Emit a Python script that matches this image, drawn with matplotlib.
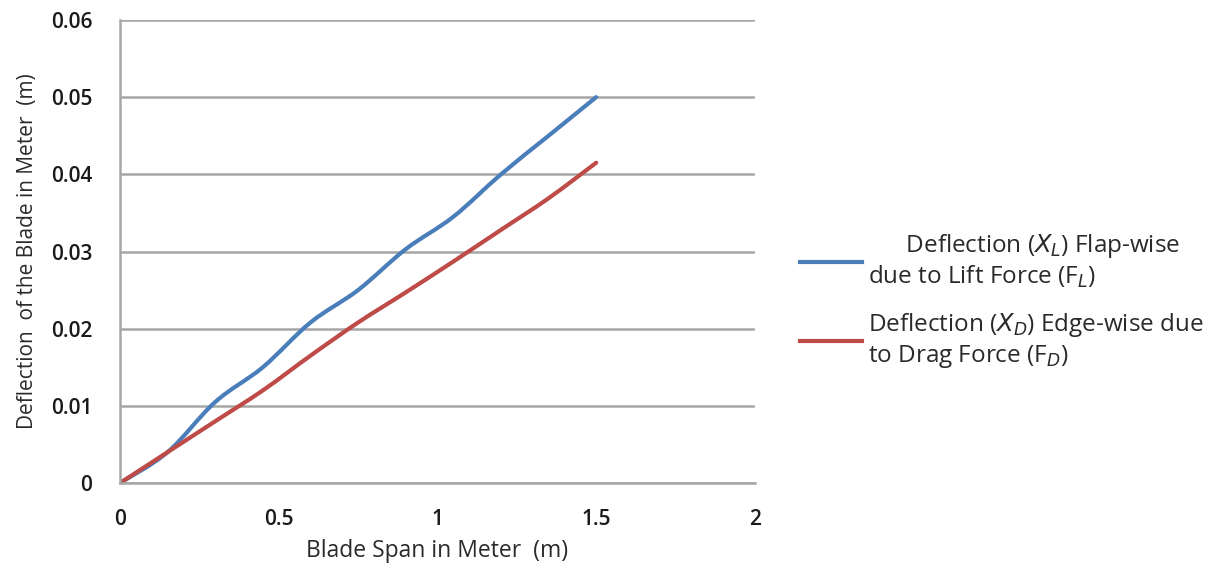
import matplotlib.pyplot as plt
from matplotlib.path import Path
from matplotlib.patches import PathPatch
from matplotlib.lines import Line2D

span = [0, 0.15, 0.3, 0.45, 0.6, 0.75, 0.9, 1.05, 1.2, 1.35, 1.5]
flap = [0, 0.004, 0.0105, 0.015, 0.0208, 0.025, 0.0303, 0.0345, 0.0400, 0.0450, 0.0500]
edge = [0, 0.004, 0.0080, 0.012, 0.0165, 0.0208, 0.0247, 0.0287, 0.0328, 0.0369, 0.0415]

xticks = [0, 0.5, 1, 1.5, 2]
xticklabels = ['0', '0.5', '1', '1.5', '2']
yticks = [0, 0.01, 0.02, 0.03, 0.04, 0.05, 0.06]
yticklabels = ['0', '0.01', '0.02', '0.03', '0.04', '0.05', '0.06']

label_flap = '      Deflection ($\\mathit{X_L}$) Flap-wise\ndue to Lift Force (F$_{\\mathit{L}}$)'
label_edge = 'Deflection ($\\mathit{X_D}$) Edge-wise due\nto Drag Force (F$_{\\mathit{D}}$)'


def smooth_path(xs, ys):
    # Excel-like smoothed line through the points (bezier segments)
    pts = list(zip(xs, ys))
    verts = [pts[0]]
    codes = [Path.MOVETO]
    n = len(pts)
    for i in range(n - 1):
        p0 = pts[max(i - 1, 0)]
        p1 = pts[i]
        p2 = pts[i + 1]
        p3 = pts[min(i + 2, n - 1)]
        c1 = (p1[0] + (p2[0] - p0[0]) / 6, p1[1] + (p2[1] - p0[1]) / 6)
        c2 = (p2[0] - (p3[0] - p1[0]) / 6, p2[1] - (p3[1] - p1[1]) / 6)
        verts += [c1, c2, p2]
        codes += [Path.CURVE4] * 3
    return Path(verts, codes)


fig = plt.figure(figsize=(12.19, 5.68), dpi=100)
ax = fig.add_axes([0.0984, 0.1496, 0.5209, 0.8152])

for ys, col in [(flap, '#4A7EBB'), (edge, '#BE4B48')]:
    ax.add_patch(PathPatch(smooth_path(span, ys), fill=False, edgecolor=col,
                           lw=3, capstyle='round', joinstyle='round'))

ax.set_xlim(0, 2)
ax.set_ylim(0, 0.06)
ax.set_xticks(xticks)
ax.set_xticklabels(xticklabels)
ax.set_yticks(yticks)
ax.set_yticklabels(yticklabels)
ax.tick_params(length=0, labelsize=15, colors='#1a1a1a')
ax.tick_params(axis='y', pad=20)
ax.tick_params(axis='x', pad=19)
for lab in ax.get_xticklabels() + ax.get_yticklabels():
    lab.set_family('Open Sans')
    lab.set_weight('semibold')

ax.grid(axis='y', color='#A6A6A6', lw=1.8)
ax.set_axisbelow(True)
for s in ['top', 'right']:
    ax.spines[s].set_visible(False)
for s in ['left', 'bottom']:
    ax.spines[s].set_color('#A6A6A6')
    ax.spines[s].set_linewidth(1.8)

ax.set_xlabel('Blade Span in Meter  (m)', fontsize=16.5, family='Open Sans', color='#2a2a2a', labelpad=6)
ax.set_ylabel('Deflection  of the Blade in Meter  (m)', fontsize=15, family='Open Sans', color='#2a2a2a', labelpad=9)

handles = [Line2D([], [], color='#4A7EBB', lw=3), Line2D([], [], color='#BE4B48', lw=3)]
leg = fig.legend(handles, [label_flap, label_edge], loc='center left',
                 bbox_to_anchor=(0.656, 0.47), frameon=False,
                 prop={'family': 'Open Sans', 'size': 17.5}, handlelength=2.55,
                 handletextpad=0.25, labelspacing=0.85, borderpad=0, borderaxespad=0)
for t in leg.get_texts():
    t.set_color('#2a2a2a')

fig.savefig('out.png', dpi=100)
